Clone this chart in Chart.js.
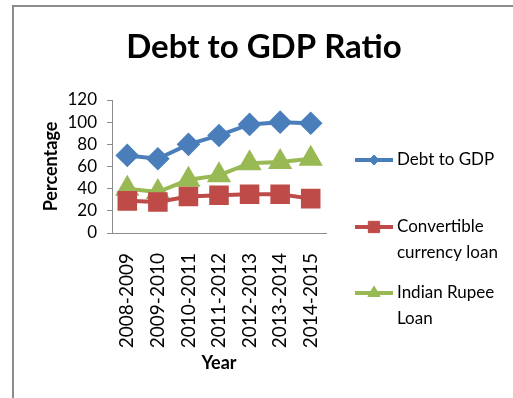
<!DOCTYPE html>
<html>
<head>
<meta charset="utf-8">
<script src="https://cdn.jsdelivr.net/npm/chart.js@4/dist/chart.umd.min.js"></script>
<style>
  html, body { margin: 0; padding: 0; background: #fff; overflow: hidden; }
  #frame { position: absolute; left: 12px; top: 5px; width: 520px; height: 420px;
           border-top: 2px solid #8c8c8c; border-left: 2px solid #8c8c8c; }
  #chart { position: absolute; left: 0; top: 0; }
</style>
</head>
<body>
<div id="frame"></div>
<canvas id="chart" width="513" height="398"></canvas>
<script>
const years = ["2008-2009", "2009-2010", "2010-2011", "2011-2012", "2012-2013", "2013-2014", "2014-2015"];
const debtToGdp = [70, 67, 80, 88, 98, 100, 99];
const convertibleLoan = [29, 28, 33, 34, 35, 35, 31];
const rupeeLoan = [40, 37, 48, 52, 63, 64, 67];
const yTicks = [0, 20, 40, 60, 80, 100, 120];

const titleText = "Debt to GDP Ratio";
const legendLines = [
  ["Debt to GDP"],
  ["Convertible", "currency loan"],
  ["Indian Rupee", "Loan"],
];

const FONT = "Lato, 'Liberation Sans', sans-serif";

// title + legend drawn by hand: title is centred on the whole frame, legend labels wrap
const sideLegend = {
  id: "sideLegend",
  afterDraw(chart) {
    const ctx = chart.ctx;
    ctx.save();
    ctx.fillStyle = "#000";
    ctx.font = "bold 33px " + FONT;
    ctx.textAlign = "center";
    ctx.textBaseline = "middle";
    ctx.fillText(titleText, 264, 47);

    const x0 = chart.chartArea.right + 29;
    const rowY = [160, 227, 293];
    chart.data.datasets.forEach((ds, i) => {
      const y = rowY[i];
      ctx.strokeStyle = ds.borderColor;
      ctx.lineWidth = 4;
      ctx.beginPath();
      ctx.moveTo(x0, y);
      ctx.lineTo(x0 + 38, y);
      ctx.stroke();
      ctx.fillStyle = ds.borderColor;
      ctx.lineWidth = 1;
      Chart.helpers.drawPoint(ctx, { pointStyle: ds.pointStyle, radius: ds.legendRadius, rotation: 0, borderWidth: 1 }, x0 + 19, y);
      ctx.fillStyle = "#000";
      ctx.font = "17px " + FONT;
      ctx.textBaseline = "middle";
      ctx.textAlign = "left";
      legendLines[i].forEach((t, j) => ctx.fillText(t, x0 + 42, y + j * 26));
    });
    ctx.restore();
  },
};

new Chart(document.getElementById("chart").getContext("2d"), {
  type: "line",
  data: {
    labels: years,
    datasets: [
      {
        label: "Debt to GDP",
        data: debtToGdp,
        borderColor: "#4A7EBB",
        backgroundColor: "#4A7EBB",
        borderWidth: 4,
        pointStyle: "rectRot",
        pointRadius: 9,
        legendRadius: 5,
      },
      {
        label: "Convertible currency loan",
        data: convertibleLoan,
        borderColor: "#BE4B48",
        backgroundColor: "#BE4B48",
        borderWidth: 4,
        pointStyle: "rect",
        pointRadius: 11,
        legendRadius: 8,
      },
      {
        label: "Indian Rupee Loan",
        data: rupeeLoan,
        borderColor: "#98B954",
        backgroundColor: "#98B954",
        borderWidth: 4,
        pointStyle: "triangle",
        pointRadius: 10,
        legendRadius: 7,
      },
    ],
  },
  options: {
    responsive: false,
    animation: false,
    layout: { padding: { left: 30, right: 187, top: 100, bottom: 24 } },
    plugins: {
      legend: { display: false },
      tooltip: { enabled: false },
      title: { display: false },
    },
    elements: { line: { tension: 0 }, point: { borderWidth: 1 } },
    scales: {
      x: {
        offset: true,
        afterFit(scale) { scale.height = 141; },
        grid: { display: false },
        border: { color: "#8c8c8c", width: 1 },
        ticks: { color: "#000", maxRotation: 90, minRotation: 90, padding: 12,
                 font: { family: FONT, size: 19 } },
        title: { display: true, text: "Year", color: "#000", padding: 0,
                 font: { family: FONT, size: 18, weight: "bold" } },
      },
      y: {
        min: 0,
        max: 120,
        afterFit(scale) { scale.width = 82; },
        afterBuildTicks(scale) { scale.ticks = yTicks.map((v) => ({ value: v })); },
        grid: { drawOnChartArea: false, drawTicks: true, tickLength: 5, color: "#8c8c8c" },
        border: { color: "#8c8c8c", width: 1 },
        ticks: { color: "#000", padding: 10, autoSkip: false, font: { family: FONT, size: 17 } },
        title: { display: true, text: "Percentage", color: "#000", padding: { top: 10, bottom: 0 },
                 font: { family: FONT, size: 18, weight: "bold" } },
      },
    },
  },
  plugins: [sideLegend],
});
</script>
</body>
</html>
